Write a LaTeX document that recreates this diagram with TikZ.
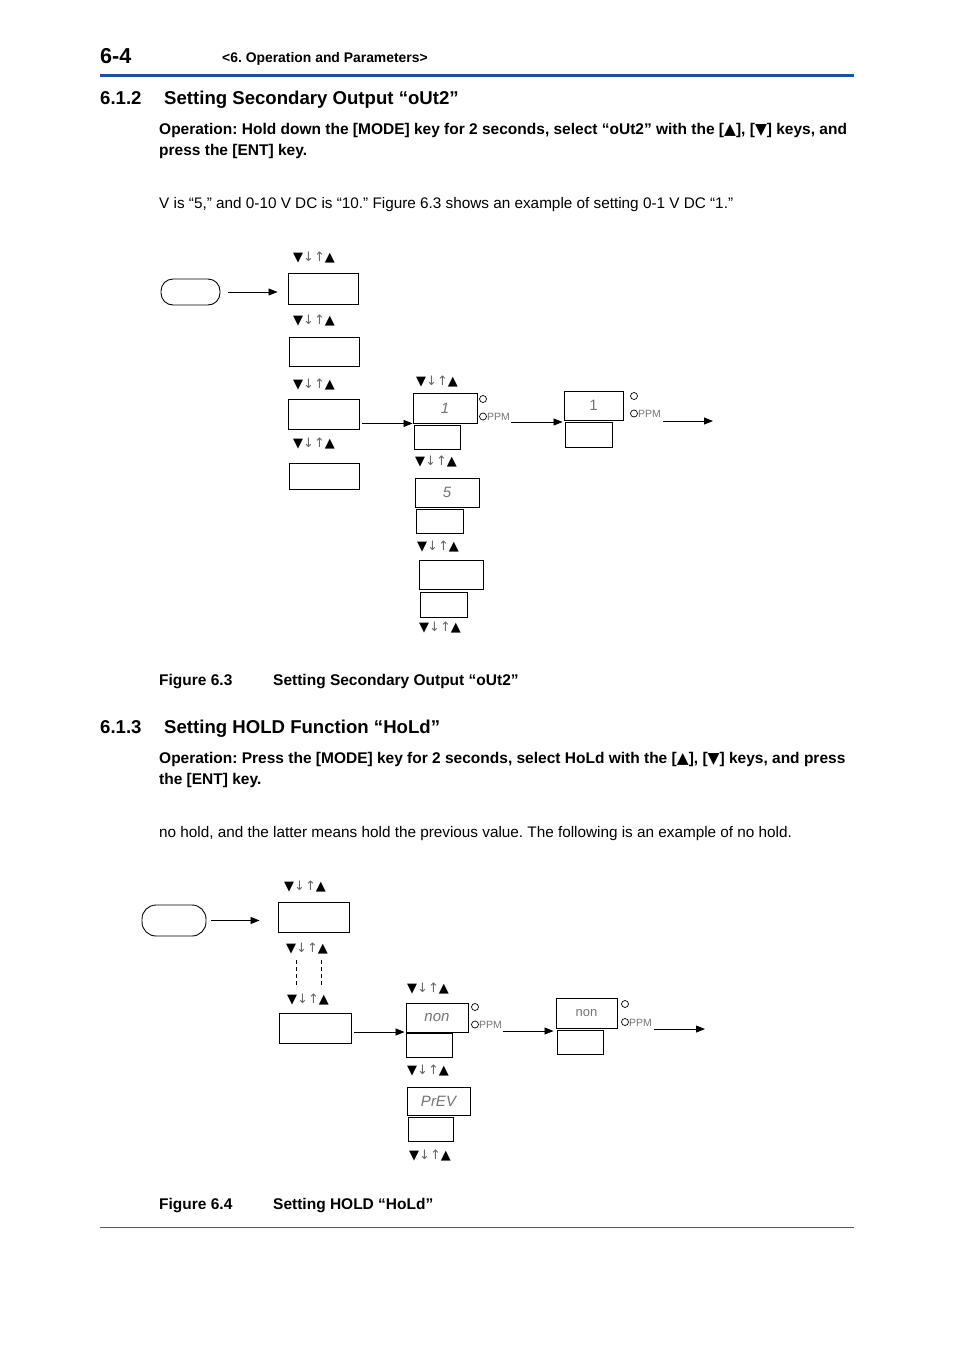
\documentclass[tikz,border=0pt]{standalone}
\usepackage{fontspec}
\setmainfont{Liberation Sans}
\newfontfamily\symf{DejaVu Sans}
\usetikzlibrary{arrows.meta,calc}
\definecolor{hdblue}{HTML}{1F4FA0}
\frenchspacing
\begin{document}
\begin{tikzpicture}[x=1pt,y=-1pt,
  txt/.style={anchor=base west,inner sep=0,font=\fontsize{15.3}{18}\selectfont},
  btxt/.style={txt,font=\fontsize{15.5}{18}\selectfont\bfseries},
  htxt/.style={txt,font=\fontsize{18.6}{22}\selectfont\bfseries},
  ctxt/.style={txt,font=\fontsize{15.5}{18}\selectfont\bfseries},
  keys/.style={inner sep=0,font=\symf\fontsize{13}{14}\selectfont},
  disp/.style={draw,line width=0.9pt,inner sep=0,font=\fontsize{15}{16}\selectfont\itshape\color{black!55}},
  sub/.style={draw,line width=0.9pt,inner sep=0},
  stad/.style={draw,line width=0.9pt,rounded corners=12pt,inner sep=0},
  led/.style={draw,circle,line width=0.7pt,minimum size=7pt,inner sep=0},
  ppm/.style={anchor=west,inner sep=0,font=\fontsize{10.5}{11}\selectfont\color{black!55}},
  arr/.style={line width=0.8pt,-{Triangle[length=9pt,width=7pt]}},
  ln/.style={line width=0.8pt}]
\useasboundingbox (0,0) rectangle (954,1350);

% header
\node[txt,font=\fontsize{21.6}{26}\selectfont\bfseries] (pg) at (100,63) {6-4};
\node[txt,font=\fontsize{13.9}{15}\selectfont\bfseries] (hd) at (222,62) {<6. Operation and Parameters>};
\draw[hdblue,line width=3pt] (100,75) -- (854,75);

% section 6.1.2
\node[htxt] (s612n) at (100,104) {6.1.2};
\node[htxt] (s612) at (164,104) {Setting Secondary Output “oUt2”};
\node[btxt] (op1a) at (159,134) {Operation: Hold down the [MODE] key for 2 seconds, select “oUt2” with the [{\symf▲}], [{\symf▼}] keys, and};
\node[btxt] (op1b) at (159,155) {press the [ENT] key.};
\node[txt] (body1) at (159,208) {V is “5,” and 0-10 V DC is “10.” Figure 6.3 shows an example of setting 0-1 V DC “1.”};

% figure 6.3
\node[stad,minimum width=59pt,minimum height=26pt] (s1) at (190.5,292) {};
\node[keys] (k1) at (314,258) {▼{\color{black!60}↓↑}▲};
\node[sub,minimum width=70pt,minimum height=31pt] (b1) at (323,288.5) {};
\node[keys] (k2) at (314,321) {▼{\color{black!60}↓↑}▲};
\node[sub,minimum width=70pt,minimum height=29pt] (b2) at (324,351.5) {};
\node[keys] (k3) at (314,385) {▼{\color{black!60}↓↑}▲};
\node[sub,minimum width=71pt,minimum height=30pt] (b3) at (323.5,414) {};
\node[keys] (k4) at (314,444) {▼{\color{black!60}↓↑}▲};
\node[sub,minimum width=70pt,minimum height=26pt] (b4) at (324,476) {};
\draw[arr,shorten <=8pt,shorten >=10pt] (s1.east) -- (b1.west |- s1.east);

\node[keys] (k5) at (437,382) {▼{\color{black!60}↓↑}▲};
\node[disp,minimum width=64pt,minimum height=30pt] (r1) at (445,408) {1};
\node[sub,minimum width=46pt,minimum height=24pt] (r1b) at (437,437) {};
\node[keys] (k6) at (436,462) {▼{\color{black!60}↓↑}▲};
\node[disp,minimum width=64pt,minimum height=29pt] (r2) at (447,492.5) {5};
\node[sub,minimum width=47pt,minimum height=24pt] (r2b) at (439.5,521) {};
\node[keys] (k7) at (438,547) {▼{\color{black!60}↓↑}▲};
\node[sub,minimum width=64pt,minimum height=29pt] (r3) at (451,574.5) {};
\node[sub,minimum width=47pt,minimum height=25pt] (r3b) at (443.5,604.5) {};
\node[keys] (k8) at (440,628) {▼{\color{black!60}↓↑}▲};
\coordinate (c1) at ([xshift=3pt]b3.east |- r1.south);
\draw[arr] (c1) -- (r1.south west);

\node[led] (l1) at (483,399) {};
\node[led] (l2) at (483,416.5) {};
\node[ppm] (p1) at (487,417) {PPM};
\node[disp,font=\fontsize{15}{16}\selectfont\color{black!55},minimum width=59pt,minimum height=29pt] (t1) at (593.5,405.5) {1};
\node[sub,minimum width=47pt,minimum height=25pt] (t1b) at (588.5,434.5) {};
\coordinate (c2) at ([xshift=1pt]p1.east |- 0,422);
\draw[arr] (c2) -- ([xshift=-1pt]t1.west |- c2);
\node[led] (l3) at (634,396) {};
\node[led] (l4) at (634,413.5) {};
\node[ppm] (p2) at (638,414) {PPM};
\coordinate (c3) at ([xshift=2pt]p2.east |- 0,421);
\coordinate (e1) at (713,421);
\draw[arr] (c3) -- (e1);

\node[ctxt] (f63) at (159,685) {Figure 6.3};
\node[ctxt] (f63t) at (273,685) {Setting Secondary Output “oUt2”};

% section 6.1.3
\node[htxt] (s613n) at (100,733) {6.1.3};
\node[htxt] (s613) at (164,733) {Setting HOLD Function “HoLd”};
\node[btxt] (op2a) at (159,763) {Operation: Press the [MODE] key for 2 seconds, select HoLd with the [{\symf▲}], [{\symf▼}] keys, and press};
\node[btxt] (op2b) at (159,784) {the [ENT] key.};
\node[txt] (body2) at (159,837) {no hold, and the latter means hold the previous value. The following is an example of no hold.};

% figure 6.4
\node[stad,minimum width=64pt,minimum height=31pt,rounded corners=14pt] (s2) at (174,920.5) {};
\node[keys] (m1) at (305,887) {▼{\color{black!60}↓↑}▲};
\node[sub,minimum width=71pt,minimum height=30pt] (u1) at (313.5,917) {};
\draw[arr,shorten <=5pt,shorten >=18pt] (s2.east) -- (u1.west |- s2.east);
\node[keys] (m2) at (307,949) {▼{\color{black!60}↓↑}▲};
\coordinate (d1) at (296,960);
\coordinate (d2) at (296,988);
\coordinate (d3) at (321,960);
\coordinate (d4) at (321,988);
\draw[ln,dashed,dash pattern=on 4pt off 3pt] (d1) -- (d2);
\draw[ln,dashed,dash pattern=on 4pt off 3pt] (d3) -- (d4);
\node[keys] (m3) at (308,1000) {▼{\color{black!60}↓↑}▲};
\node[sub,minimum width=72pt,minimum height=30pt] (u2) at (315,1028) {};

\node[keys] (m4) at (428,989) {▼{\color{black!60}↓↑}▲};
\node[disp,minimum width=62pt,minimum height=29pt] (v1) at (437,1017.5) {non};
\node[sub,minimum width=46pt,minimum height=24pt] (v1b) at (429,1045) {};
\coordinate (c4) at ([xshift=3pt]u2.east |- 0,1032);
\draw[arr] (c4) -- ([xshift=-1pt]v1.west |- c4);
\node[keys] (m5) at (428,1071) {▼{\color{black!60}↓↑}▲};
\node[disp,minimum width=63pt,minimum height=28pt] (v2) at (438.5,1101) {PrEV};
\node[sub,minimum width=45pt,minimum height=24pt] (v2b) at (430.5,1129) {};
\node[keys] (m6) at (430,1156) {▼{\color{black!60}↓↑}▲};

\node[led] (l5) at (475,1007) {};
\node[led] (l6) at (475,1024.5) {};
\node[ppm] (p3) at (479,1025) {PPM};
\node[disp,font=\fontsize{13}{16}\selectfont\color{black!55},minimum width=61pt,minimum height=30pt] (w1) at (586.5,1013) {non};
\node[sub,minimum width=46pt,minimum height=24pt] (w1b) at (580,1042) {};
\coordinate (c5) at ([xshift=1pt]p3.east |- 0,1031);
\draw[arr] (c5) -- ([xshift=-2pt]w1.west |- c5);
\node[led] (l7) at (625,1004) {};
\node[led] (l8) at (625,1022) {};
\node[ppm] (p4) at (629,1022.5) {PPM};
\coordinate (c6) at ([xshift=2pt]p4.east |- 0,1029);
\coordinate (e2) at (705,1029);
\draw[arr] (c6) -- (e2);

\node[ctxt] (f64) at (159,1209) {Figure 6.4};
\node[ctxt] (f64t) at (273,1209) {Setting HOLD “HoLd”};
\draw[hdblue!70!gray,line width=0.8pt] (100,1227) -- (854,1227);
\end{tikzpicture}
\end{document}
